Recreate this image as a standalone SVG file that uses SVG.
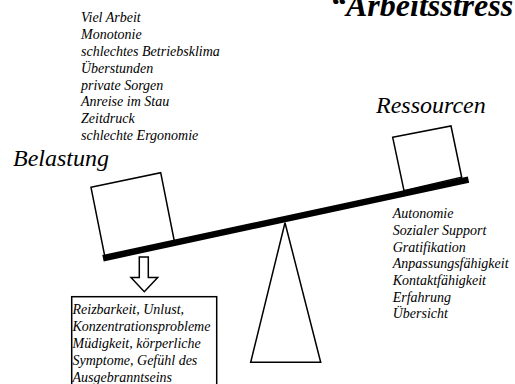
<svg xmlns="http://www.w3.org/2000/svg" width="515" height="384" viewBox="0 0 515 384">
  <style>
    text { font-family: "Liberation Serif", "Times New Roman", serif; fill: #000; }
    .it { font-style: italic; font-size: 14px; }
    .big { font-style: italic; font-size: 24px; }
    .title { font-style: italic; font-weight: bold; font-size: 32px; }
    .shape { fill: #fff; stroke: #000; stroke-width: 1.5; stroke-linejoin: miter; }
  </style>
  <rect width="515" height="384" fill="#fff"/>

  <g id="title">
    <text class="title" x="330" y="16">“Arbeitsstress</text>
  </g>

  <g id="stressors">
    <text class="it" x="81" y="22.3">Viel Arbeit</text>
    <text class="it" x="81" y="39.1">Monotonie</text>
    <text class="it" x="81" y="55.9">schlechtes Betriebsklima</text>
    <text class="it" x="81" y="72.7">Überstunden</text>
    <text class="it" x="81" y="89.5">private Sorgen</text>
    <text class="it" x="81" y="106.3">Anreise im Stau</text>
    <text class="it" x="81" y="123.1">Zeitdruck</text>
    <text class="it" x="81" y="139.9">schlechte Ergonomie</text>
  </g>

  <g id="label-belastung">
    <text class="big" x="13" y="166">Belastung</text>
  </g>

  <g id="label-ressourcen">
    <text class="big" x="376" y="113">Ressourcen</text>
  </g>

  <g id="box-belastung">
    <polygon class="shape" points="91,187.3 160.7,172.7 174.3,241 105,257.3"/>
  </g>

  <g id="box-ressourcen">
    <polygon class="shape" points="392.7,137.3 451,126 461.7,177.3 404,190.7"/>
  </g>

  <g id="fulcrum">
    <polygon class="shape" points="285,222.7 320.7,362.3 250.7,362.3"/>
  </g>

  <g id="beam">
    <line x1="103" y1="258.2" x2="468.5" y2="179.6" stroke="#000" stroke-width="6.5" stroke-linecap="butt"/>
  </g>

  <g id="resources">
    <text class="it" x="392.7" y="218.3">Autonomie</text>
    <text class="it" x="392.7" y="235">Sozialer Support</text>
    <text class="it" x="392.7" y="251.7">Gratifikation</text>
    <text class="it" x="392.7" y="268.3">Anpassungsfähigkeit</text>
    <text class="it" x="392.7" y="285">Kontaktfähigkeit</text>
    <text class="it" x="392.7" y="301.7">Erfahrung</text>
    <text class="it" x="392.7" y="318.3">Übersicht</text>
  </g>

  <g id="connectors">
    <polygon class="shape" stroke-width="1.3" points="139.3,257 148.3,257 148.3,277.5 157.7,277.5 144.3,291.7 131,277.5 139.3,277.5"/>
  </g>

  <g id="outcome">
    <rect class="shape" x="71.7" y="296.7" width="145" height="100"/>
    <text class="it" x="72.5" y="314">Reizbarkeit, Unlust,</text>
    <text class="it" x="72.5" y="330.9">Konzentrationsprobleme</text>
    <text class="it" x="72.5" y="347.8">Müdigkeit, körperliche</text>
    <text class="it" x="72.5" y="364.7">Symptome, Gefühl des</text>
    <text class="it" x="72.5" y="381.6">Ausgebranntseins</text>
  </g>
</svg>
